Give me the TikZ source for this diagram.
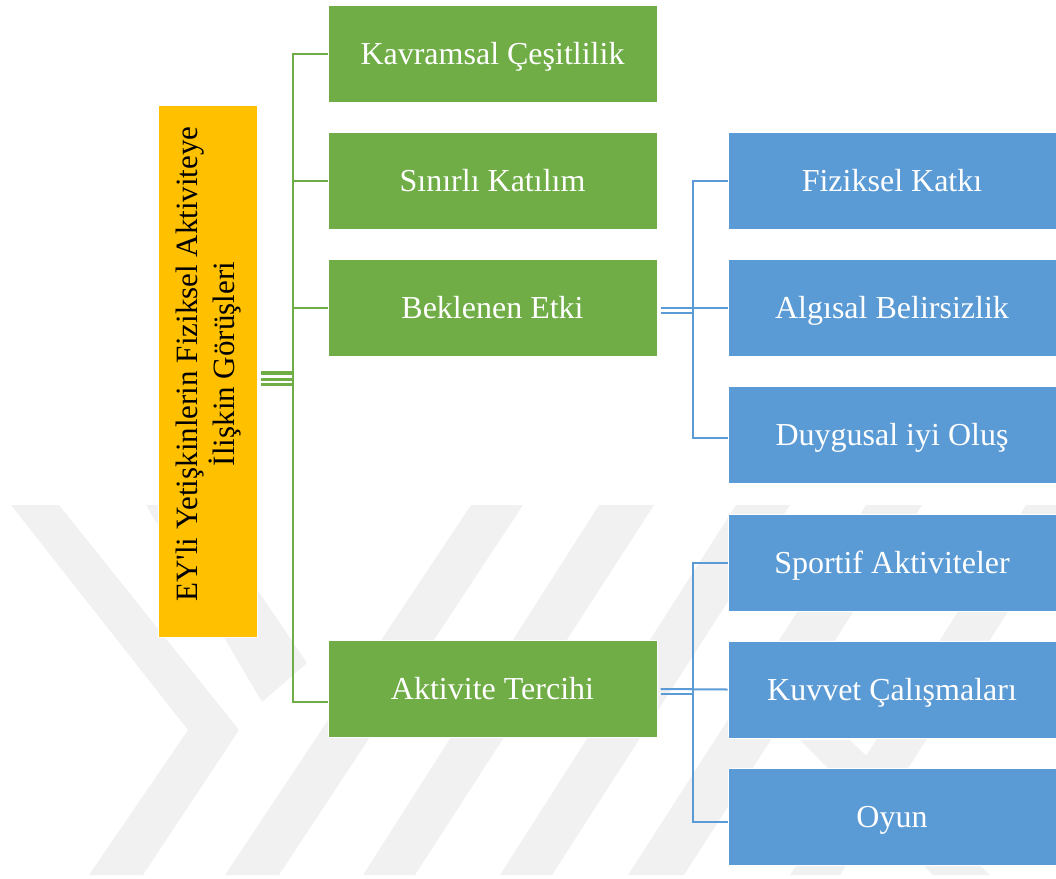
\documentclass[tikz,border=0pt]{standalone}
\usepackage{fontspec}
\setmainfont{Liberation Serif}[Ligatures=TeXOff]
\definecolor{boxgreen}{HTML}{70AD47}
\definecolor{boxblue}{HTML}{5B9BD5}
\definecolor{boxgold}{HTML}{FFC000}
\definecolor{markgray}{HTML}{F1F1F1}
\begin{document}
\begin{tikzpicture}[x=1pt,y=-1pt,
  base/.style={rectangle,draw=white,line width=1pt,inner sep=0pt,
    font=\fontsize{32}{38}\selectfont,text=white,text height=21.5pt,text depth=0pt},
  gbox/.style={base,fill=boxgreen,minimum width=329pt,minimum height=97pt},
  bbox/.style={base,fill=boxblue,minimum width=328pt,minimum height=97pt},
  rootbox/.style={base,fill=boxgold,minimum width=99pt,minimum height=532pt},
  gline/.style={draw=boxgreen,line width=2pt},
  bline/.style={draw=boxblue,line width=2pt},
  band/.style={fill=markgray,draw=none}]
\useasboundingbox (0,0) rectangle (1056,878);

% faint background emblem
\fill[band] (11,505) -- (59,505) -- (239,730) -- (143,875) -- (89,875) -- (188,730) -- cycle;
\fill[band] (146,505) -- (200,505) -- (307,663) -- (262,702) -- cycle;
\fill[band] (225,875) -- (279,875) -- (523,505) -- (471,505) -- cycle;
\fill[band] (363,875) -- (415,875) -- (654,505) -- (599,505) -- cycle;
\fill[band] (500,875) -- (552,875) -- (790,505) -- (736,505) -- cycle;
\fill[band] (628,875) -- (684,875) -- (922,505) -- (866,505) -- cycle;
\fill[band] (800,740) -- (850,740) -- (990,875) -- (933,875) -- cycle;
\fill[band] (790,875) -- (840,875) -- (1076,505) -- (1026,505) -- cycle;

% root
\node[rootbox] (root) at (207.5,371) {};
\node[rotate=90,align=center,font=\fontsize{31}{37}\selectfont] (roottext) at (209,364)
  {EY'li Yetişkinlerin Fiziksel Aktiviteye\\İlişkin Görüşleri};

% first level
\node[gbox] (kav) at (492.5,53.5) {Kavramsal Çeşitlilik};
\node[gbox] (sin) at (492.5,180.5) {Sınırlı Katılım};
\node[gbox] (bek) at (492.5,307.5) {Beklenen Etki};
\node[gbox] (akt) at (492.5,689) {Aktivite Tercihi};

% second level
\node[bbox] (fiz) at (892,180.5) {Fiziksel Katkı};
\node[bbox] (alg) at (892,307.5) {Algısal Belirsizlik};
\node[bbox] (duy) at (892,434.5) {Duygusal iyi Oluş};
\node[bbox] (spo) at (892,562.5) {Sportif Aktiviteler};
\node[bbox] (kuv) at (892,689.5) {Kuvvet Çalışmaları};
\node[bbox] (oyu) at (892,816.5) {Oyun};

% trunk positions
\coordinate (gt) at (293,0);
\coordinate (bt) at (693,0);

% root to first level
\draw[gline,line width=4.5pt] ([xshift=3pt,yshift=-2pt]root.east) -- ([yshift=-2pt]root.east -| gt);
\draw[gline,line width=2.5pt] ([xshift=3pt,yshift=-8.5pt]root.east) -- ([yshift=-8.5pt]root.east -| gt);
\draw[gline,line width=2.5pt] ([xshift=3pt,yshift=-13.5pt]root.east) -- ([yshift=-13.5pt]root.east -| gt);
\draw[gline] (kav.west) -- (kav.west -| gt) -- ([yshift=-13pt]akt.west -| gt) -- ([yshift=-13pt]akt.west);
\draw[gline] (sin.west -| gt) -- (sin.west);
\draw[gline] (bek.west -| gt) -- (bek.west);

% Beklenen Etki to its children
\draw[bline] ([xshift=3pt]bek.east) -- (alg.west);
\draw[bline] ([xshift=3pt,yshift=-5.5pt]bek.east) -- ([yshift=-5.5pt]bek.east -| bt);
\draw[bline] (fiz.west) -- (fiz.west -| bt) -- ([yshift=-3.5pt]duy.west -| bt) -- ([yshift=-3.5pt]duy.west);

% Aktivite Tercihi to its children
\draw[bline] ([xshift=3pt]akt.east) -- (kuv.west);
\draw[bline] ([xshift=3pt,yshift=-5pt]akt.east) -- ([yshift=-5pt]akt.east -| bt);
\draw[bline] (spo.west) -- (spo.west -| bt) -- ([yshift=-5.5pt]oyu.west -| bt) -- ([yshift=-5.5pt]oyu.west);
\end{tikzpicture}
\end{document}
